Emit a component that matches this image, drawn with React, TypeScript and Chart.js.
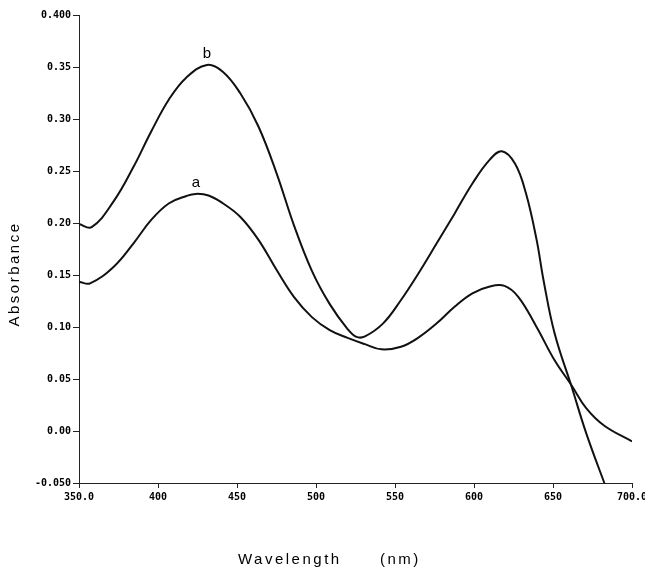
import React, { useEffect, useRef } from "react";
import { Chart, registerables } from "chart.js";

Chart.register(...registerables);

const xTickLabels = ["350.0", "400", "450", "500", "550", "600", "650", "700.0"];
const yTickLabels = ["-0.050", "0.00", "0.05", "0.10", "0.15", "0.20", "0.25", "0.30", "0.35", "0.400"];

const wavelengthB = [350, 358, 372, 384.5, 395.7, 407, 418, 431, 441, 452, 463.5, 475, 486, 497.4, 508.7, 520, 525.6, 531, 542.5, 553.8, 565, 576.4, 587.7, 599, 610, 617.7, 626, 632.8, 639.6, 644, 651, 661.7, 671, 682.5, 690];
const absorbanceB = [0.199, 0.196, 0.221, 0.254, 0.288, 0.319, 0.34, 0.352, 0.3455, 0.325, 0.293, 0.248, 0.198, 0.154, 0.122, 0.098, 0.0905, 0.091, 0.1035, 0.126, 0.152, 0.1805, 0.209, 0.238, 0.261, 0.269, 0.257, 0.229, 0.184, 0.145, 0.094, 0.043, -0.002, -0.05, -0.08];

const wavelengthA = [350, 357, 372, 384.5, 395.7, 407, 418, 424, 432, 441, 452, 463.5, 475, 486, 497.4, 508.7, 520, 531, 541.4, 553.8, 565, 576.4, 587.7, 599, 610, 619.3, 628, 639.6, 651, 661.7, 671, 682.5, 700];
const absorbanceA = [0.1436, 0.142, 0.158, 0.1805, 0.203, 0.219, 0.226, 0.228, 0.2265, 0.219, 0.206, 0.184, 0.155, 0.129, 0.1095, 0.097, 0.0895, 0.0835, 0.0785, 0.081, 0.09, 0.1035, 0.1195, 0.1324, 0.139, 0.1395, 0.129, 0.1, 0.068, 0.044, 0.022, 0.005, -0.01];

const curveLabels = ["a", "b"];
const curveLabelX = [424, 431];
const curveLabelY = [0.237, 0.3615];

const yTitle = "Absorbance";
const xTitle = "Wavelength";
const xUnit = "(nm)";

export default function App() {
  const ref = useRef<HTMLCanvasElement | null>(null);
  useEffect(() => {
    const canvas = ref.current;
    if (!canvas) return;
    const annot = {
      id: "annot",
      afterDraw(chart: any) {
        const ctx = chart.ctx;
        const xs = chart.scales.x;
        const ys = chart.scales.y;
        ctx.save();
        ctx.fillStyle = "#000";
        ctx.font = "15px 'Liberation Sans', Arial, sans-serif";
        ctx.textAlign = "center";
        ctx.textBaseline = "bottom";
        for (let i = 0; i < curveLabels.length; i++) {
          ctx.fillText(curveLabels[i], xs.getPixelForValue(curveLabelX[i]), ys.getPixelForValue(curveLabelY[i]) + 6);
        }
        ctx.font = "15px 'Liberation Sans', Arial, sans-serif";
        (ctx as any).letterSpacing = "2.5px";
        ctx.textAlign = "left";
        ctx.textBaseline = "middle";
        ctx.fillText(xTitle, 238, 560);
        ctx.fillText(xUnit, 380, 560);
        ctx.translate(15, 274);
        ctx.rotate(-Math.PI / 2);
        ctx.textAlign = "center";
        ctx.fillText(yTitle, 0, 0);
        ctx.restore();
      },
    };
    const tickFont = { family: "'DejaVu Sans Mono', monospace", size: 10, weight: "bold" as const };
    const chart = new Chart(canvas, {
      type: "line",
      data: {
        datasets: [
          {
            label: "a",
            data: wavelengthA.map((x, i) => ({ x, y: absorbanceA[i] })),
            borderColor: "#111",
            borderWidth: 2,
            pointRadius: 0,
            tension: 0.4,
            fill: false,
          },
          {
            label: "b",
            data: wavelengthB.map((x, i) => ({ x, y: absorbanceB[i] })),
            borderColor: "#111",
            borderWidth: 2,
            pointRadius: 0,
            tension: 0.4,
            fill: false,
          },
        ],
      },
      options: {
        animation: false,
        responsive: false,
        devicePixelRatio: 1,
        layout: { padding: { left: 0, top: 15, right: 13, bottom: 0 } },
        plugins: { legend: { display: false }, tooltip: { enabled: false } },
        scales: {
          x: {
            type: "linear",
            min: 350,
            max: 700,
            ticks: {
              stepSize: 50,
              color: "#000",
              font: tickFont,
              padding: 3,
              maxRotation: 0,
              autoSkip: false,
              callback: (_v: any, i: number) => xTickLabels[i],
            },
            grid: { drawOnChartArea: false, drawTicks: true, tickLength: 5, color: "#222" },
            border: { display: true, color: "#222", width: 1 },
            afterFit: (s: any) => {
              s.height = 86;
              s.paddingLeft = 0;
              s.paddingRight = 0;
            },
          },
          y: {
            type: "linear",
            min: -0.05,
            max: 0.4,
            ticks: {
              stepSize: 0.05,
              color: "#000",
              font: tickFont,
              padding: 2,
              autoSkip: false,
              callback: (_v: any, i: number) => yTickLabels[i],
            },
            grid: { drawOnChartArea: false, drawTicks: true, tickLength: 6, color: "#222" },
            border: { display: true, color: "#222", width: 1 },
            afterFit: (s: any) => {
              s.width = 79;
              s.paddingTop = 0;
              s.paddingBottom = 0;
            },
          },
        },
      },
      plugins: [annot],
    });
    return () => chart.destroy();
  }, []);
  return (
    <div style={{ position: "absolute", left: 0, top: 0, width: 645, height: 569, background: "#fff" }}>
      <canvas ref={ref} width={645} height={569} style={{ display: "block" }} />
    </div>
  );
}
